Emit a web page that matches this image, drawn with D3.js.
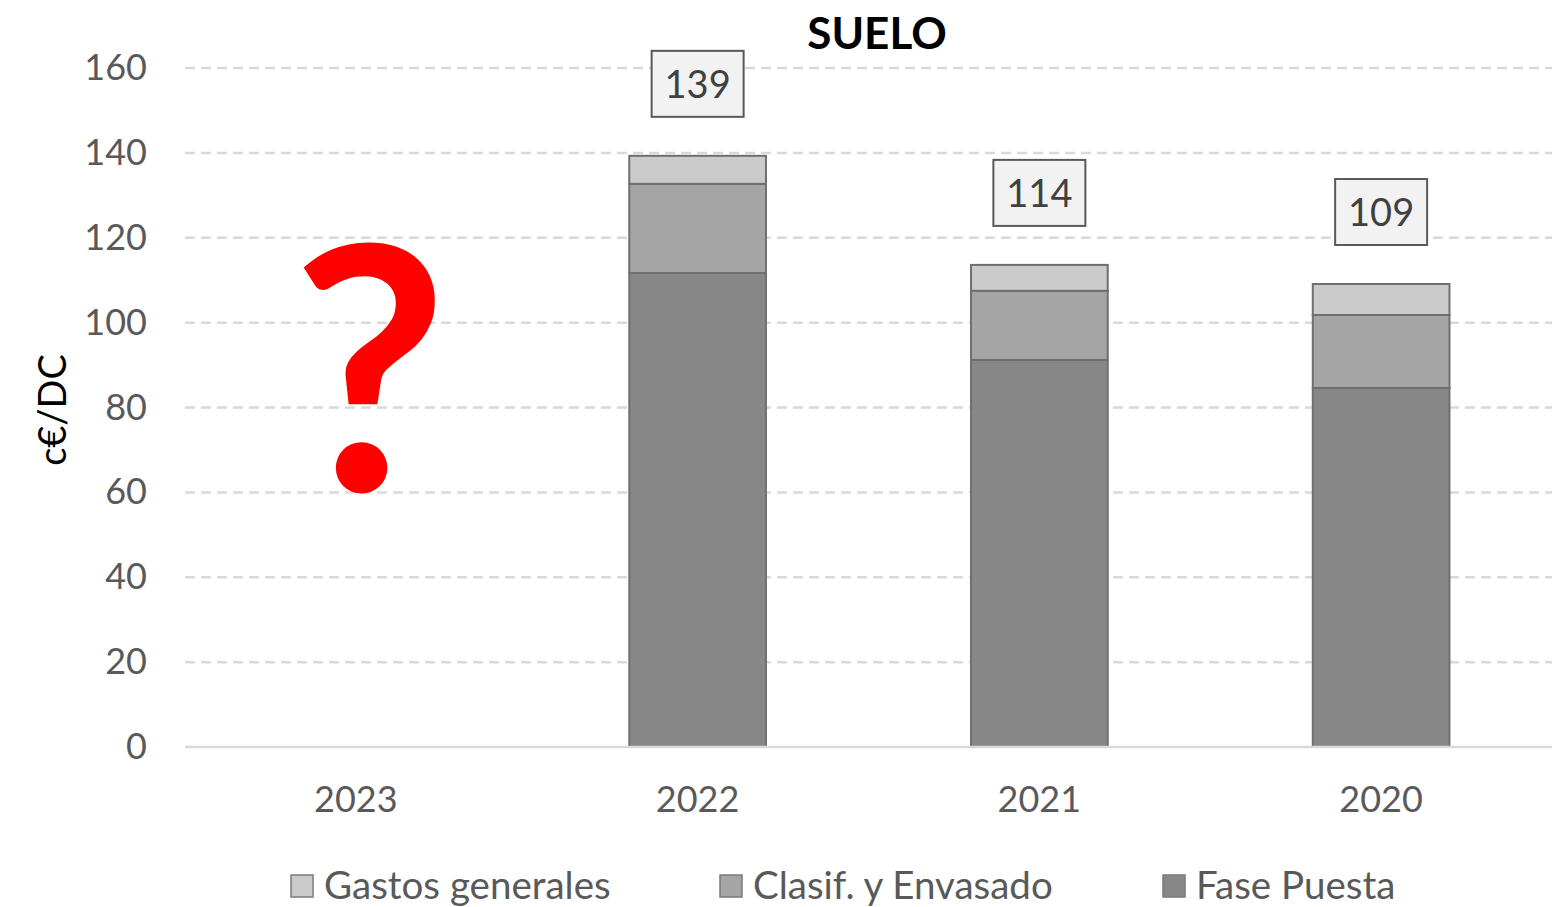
<!DOCTYPE html>
<meta charset="utf-8">
<script src="https://d3js.org/d3.v7.min.js"></script>
<style>
  body { margin: 0; background: #fff; }
  text { font-family: Lato, "Open Sans", sans-serif; }
</style>
<div id="chart"></div>
<script>
// data
var years = ["2023", "2022", "2021", "2020"];
var fasePuesta = [null, 111.7, 91.2, 84.6];
var clasifEnvasado = [null, 21.0, 16.3, 17.2];
var gastosGenerales = [null, 6.6, 6.1, 7.3];
var totalLabels = [null, "139", "114", "109"];
var yTicks = [0, 20, 40, 60, 80, 100, 120, 140, 160];
var seriesNames = ["Gastos generales", "Clasif. y Envasado", "Fase Puesta"];

var W = 1552, H = 907;
var svg = d3.select("#chart").append("svg")
    .attr("width", W).attr("height", H);

var x = d3.scaleBand().domain(years).range([185, 1552]).paddingInner(0.6).paddingOuter(0.3);
var y = d3.scaleLinear().domain([0, 160]).range([747, 68]);

// grid
svg.append("g").selectAll("line")
  .data(yTicks.filter(d => d > 0))
  .enter().append("line")
    .attr("x1", 185).attr("x2", W)
    .attr("y1", d => y(d)).attr("y2", d => y(d))
    .attr("stroke", "#d9d9d9").attr("stroke-width", 2.5)
    .attr("stroke-dasharray", "10,6");

// y axis tick labels
var yAxis = svg.append("g")
    .attr("transform", "translate(147,0)")
    .call(d3.axisLeft(y).tickValues(yTicks).tickSize(0).tickPadding(0));
yAxis.select(".domain").remove();
yAxis.selectAll("text")
    .attr("font-size", 36).attr("fill", "#595959");

// stacked bars
var rows = years.map((yr, i) => ({
  year: yr,
  fase: fasePuesta[i], clasif: clasifEnvasado[i], gastos: gastosGenerales[i]
})).filter(d => d.fase != null);

var stack = d3.stack().keys(["fase", "clasif", "gastos"]);
var colors = { fase: "#878787", clasif: "#a5a5a5", gastos: "#cbcbcb" };

svg.append("g").selectAll("g")
  .data(stack(rows))
  .enter().append("g")
    .attr("fill", d => colors[d.key])
  .selectAll("rect")
  .data(d => d)
  .enter().append("rect")
    .attr("x", d => x(d.data.year))
    .attr("width", x.bandwidth())
    .attr("y", d => y(d[1]))
    .attr("height", d => y(d[0]) - y(d[1]))
    .attr("stroke", "#6f6f6f").attr("stroke-width", 2);

// baseline
svg.append("line")
    .attr("x1", 185).attr("x2", W)
    .attr("y1", y(0)).attr("y2", y(0))
    .attr("stroke", "#d9d9d9").attr("stroke-width", 2.5);

// x axis labels
var xAxis = svg.append("g")
    .attr("transform", "translate(0," + y(0) + ")")
    .call(d3.axisBottom(x).tickSize(0).tickPadding(39));
xAxis.select(".domain").remove();
xAxis.selectAll("text")
    .attr("font-size", 36).attr("fill", "#595959");

// total labels in boxes
years.forEach(function (yr, i) {
  if (totalLabels[i] == null) return;
  var total = fasePuesta[i] + clasifEnvasado[i] + gastosGenerales[i];
  var cx = x(yr) + x.bandwidth() / 2;
  var cy = y(total) - 72;
  var g = svg.append("g");
  g.append("rect")
      .attr("x", cx - 46).attr("y", cy - 33)
      .attr("width", 92).attr("height", 66)
      .attr("fill", "#f2f2f2").attr("stroke", "#595959").attr("stroke-width", 2);
  g.append("text")
      .attr("x", cx).attr("y", cy + 14)
      .attr("text-anchor", "middle")
      .attr("font-size", 38).attr("fill", "#404040")
      .text(totalLabels[i]);
});

// question mark over the missing year
svg.append("text")
    .attr("x", x("2023") + x.bandwidth() / 2 + 14)
    .attr("y", 491)
    .attr("text-anchor", "middle")
    .attr("font-size", 340).attr("font-weight", 700)
    .attr("fill", "#ff0000")
    .text("?");

// title
svg.append("text")
    .attr("x", 877).attr("y", 49)
    .attr("text-anchor", "middle")
    .attr("font-size", 44).attr("font-weight", "bold")
    .attr("fill", "#000")
    .text("SUELO");

// y axis title
svg.append("text")
    .attr("transform", "translate(66,410) rotate(-90)")
    .attr("text-anchor", "middle")
    .attr("font-size", 38).attr("fill", "#000")
    .text("c€/DC");

// legend
var legendX = [291, 720, 1163];
var legendColors = [colors.gastos, colors.clasif, colors.fase];
seriesNames.forEach(function (name, i) {
  var g = svg.append("g").attr("transform", "translate(" + legendX[i] + ",875)");
  g.append("rect")
      .attr("width", 22).attr("height", 22)
      .attr("fill", legendColors[i]).attr("stroke", "#7a7a7a").attr("stroke-width", 1.5);
  g.append("text")
      .attr("x", 33).attr("y", 24)
      .attr("font-size", 38.5).attr("fill", "#595959")
      .text(name);
});
</script>
